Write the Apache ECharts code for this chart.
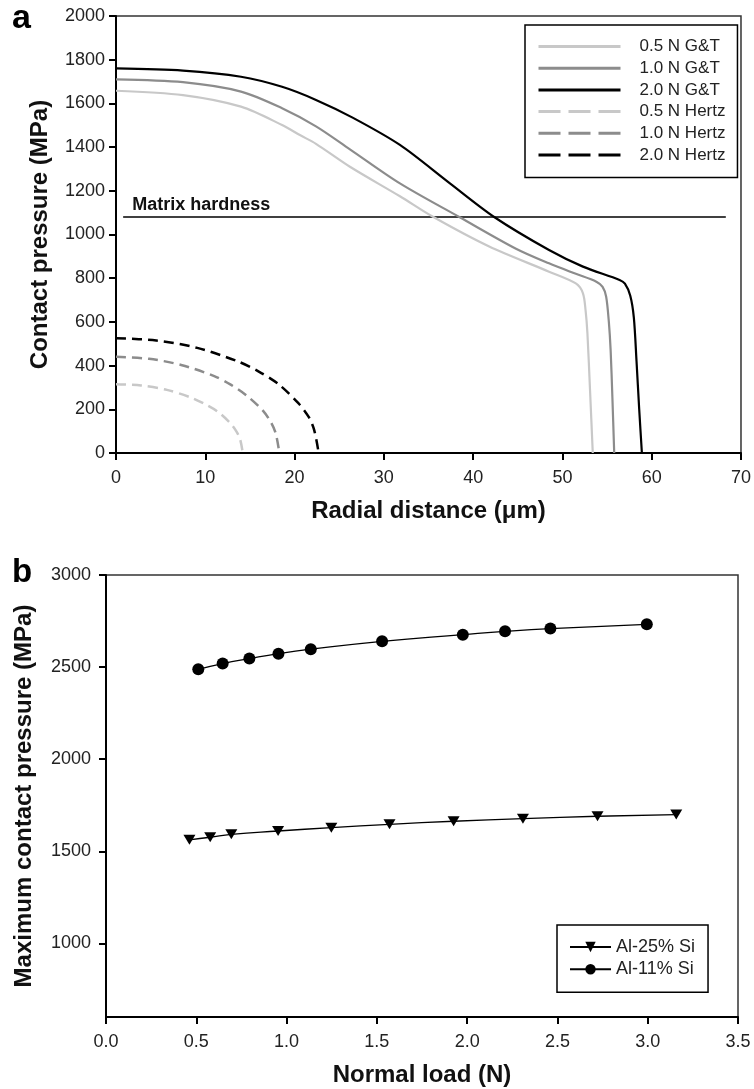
<!DOCTYPE html>
<html><head><meta charset="utf-8">
<script src="https://cdn.jsdelivr.net/npm/echarts@6/dist/echarts.min.js"></script>
<style>html,body{margin:0;padding:0;background:#fff}#c{width:754px;height:1089px}</style>
</head><body><div id="c"></div>
<script>
// ---------- Panel a data ----------
const gtNames = ['0.5 N G&T', '1.0 N G&T', '2.0 N G&T'];
const hzNames = ['0.5 N Hertz', '1.0 N Hertz', '2.0 N Hertz'];
const gt05 = [[0,1658],[7.5,1638],[14,1585],[18.6,1501],[20.6,1455],[22.4,1415],[26.2,1310],[31.8,1175],[35.5,1081],[41.8,945],[48.5,830],[51.5,776],[52.3,731],[52.6,650],[52.8,548],[53.1,280],[53.4,0]];
const gt10 = [[0,1710],[7.5,1697],[14,1654],[18.6,1578],[22.4,1495],[26.2,1390],[31.8,1234],[38.5,1079],[44.8,935],[48.5,868],[51.5,820],[53.8,784],[54.5,760],[54.9,715],[55.2,600],[55.4,471],[55.6,250],[55.8,0]];
const gt20 = [[0,1760],[7.5,1750],[14,1722],[18.6,1676],[22.4,1616],[26.5,1535],[31.8,1410],[37.4,1234],[42.4,1079],[48.5,929],[52.3,853],[56.4,792],[57.0,775],[57.6,720],[58.0,620],[58.3,420],[58.6,200],[58.9,0]];
const hz05 = [[0,315],[2.8,309],[5.7,289],[8.5,252],[9.9,225],[11.4,189],[12.8,137],[13.5,98],[13.9,63],[14.2,0]];
const hz10 = [[0,440],[3.7,431],[7.3,403],[11,352],[12.8,314],[14.6,264],[16.5,192],[17.4,137],[17.9,88],[18.3,0]];
const hz20 = [[0,525],[4.5,515],[9.1,481],[13.6,420],[15.9,375],[18.2,315],[20.4,229],[21.6,164],[22.2,105],[22.7,0]];
const hardnessX = [0.8, 68.3];
const hardnessValue = 1080;
const hardnessLabel = 'Matrix hardness';
const aXTicks = {min: 0, max: 70, interval: 10};
const aYTicks = {min: 0, max: 2000, interval: 200};

// ---------- Panel b data ----------
const bNames = ['Al-25% Si', 'Al-11% Si'];
const load25 = [0.462, 0.577, 0.694, 0.953, 1.248, 1.57, 1.925, 2.309, 2.722, 3.158];
const press25 = [1562, 1576, 1592, 1610, 1628, 1646, 1663, 1677, 1690, 1699];
const load11 = [0.511, 0.646, 0.794, 0.955, 1.134, 1.529, 1.976, 2.21, 2.461, 2.995];
const press11 = [2488, 2519, 2546, 2573, 2597, 2640, 2676, 2694, 2709, 2732];
const bXTicks = {min: 0, max: 3.5, interval: 0.5};
const bYLabels = [1000, 1500, 2000, 2500, 3000];
const bYRange = {min: 600, max: 3000};

const FONT = "'Liberation Sans', Arial, Helvetica, sans-serif";
const gray = ['#c8c8c8', '#8c8c8c', '#000000'];
const gtData = [gt05, gt10, gt20];
const hzData = [hz05, hz10, hz20];

const chart = echarts.init(document.getElementById('c'), null, {renderer: 'canvas'});

const axisLineStyle = {lineStyle: {color: '#000', width: 2}};
const tickStyle = {length: 7, lineStyle: {color: '#000', width: 2}};
const labelStyle = {fontSize: 18, color: '#222', fontFamily: FONT};
const nameStyle = {fontSize: 24, fontWeight: 'bold', color: '#111', fontFamily: FONT};
const plain = v => String(v);

const series = [];
gtNames.forEach((n, i) => series.push({
  name: n, type: 'line', xAxisIndex: 0, yAxisIndex: 0, data: gtData[i],
  symbol: 'none', smooth: 0.3,
  lineStyle: {color: gray[i], width: 2.2}, itemStyle: {color: gray[i]}, z: 3
}));
hzNames.forEach((n, i) => series.push({
  name: n, type: 'line', xAxisIndex: 0, yAxisIndex: 0, data: hzData[i],
  symbol: 'none', smooth: 0.3,
  lineStyle: {color: gray[i], width: 2.5, type: [10, 6]}, itemStyle: {color: gray[i]}, z: 3
}));
series.push({
  name: 'hardness', type: 'line', xAxisIndex: 0, yAxisIndex: 0,
  data: [
    {value: [hardnessX[0], hardnessValue], label: {show: true, formatter: hardnessLabel, position: 'top', align: 'left', distance: 3, offset: [9, 0], fontSize: 18, fontWeight: 'bold', color: '#111', fontFamily: FONT}},
    {value: [hardnessX[1], hardnessValue]}
  ],
  symbol: 'circle', symbolSize: 0.01, lineStyle: {color: '#000', width: 1.5}, itemStyle: {color: '#000'}, z: 2
});
series.push({
  name: bNames[0], type: 'line', xAxisIndex: 1, yAxisIndex: 1,
  data: load25.map((x, i) => [x, press25[i]]),
  symbol: 'path://M0,0L10,0L5,8Z', symbolSize: [12, 10], smooth: true,
  lineStyle: {color: '#000', width: 1.3}, itemStyle: {color: '#000'}
});
series.push({
  name: bNames[1], type: 'line', xAxisIndex: 1, yAxisIndex: 1,
  data: load11.map((x, i) => [x, press11[i]]),
  symbol: 'circle', symbolSize: 12, smooth: true,
  lineStyle: {color: '#000', width: 1.3}, itemStyle: {color: '#000'}
});

const legendA = gtNames.map(n => ({name: n, lineStyle: {width: 3}}))
  .concat(hzNames.map(n => ({name: n, lineStyle: {width: 3, type: [22, 8]}})));

chart.setOption({
  animation: false,
  backgroundColor: '#fff',
  textStyle: {fontFamily: FONT},
  grid: [
    {left: 116, top: 16, width: 626, height: 437, show: true, borderColor: '#333', borderWidth: 1.5},
    {left: 106, top: 575, width: 632, height: 442, show: true, borderColor: '#333', borderWidth: 1.5}
  ],
  xAxis: [
    {gridIndex: 0, type: 'value', min: aXTicks.min, max: aXTicks.max, interval: aXTicks.interval,
     axisLine: axisLineStyle, axisTick: tickStyle, axisLabel: Object.assign({margin: 16, formatter: plain}, labelStyle),
     splitLine: {show: false}, name: 'Radial distance (\u03bcm)', nameLocation: 'middle', nameGap: 46, nameTextStyle: nameStyle},
    {gridIndex: 1, type: 'value', min: bXTicks.min, max: bXTicks.max, interval: bXTicks.interval,
     axisLine: axisLineStyle, axisTick: tickStyle,
     axisLabel: Object.assign({margin: 16, formatter: v => v.toFixed(1)}, labelStyle),
     splitLine: {show: false}, name: 'Normal load (N)', nameLocation: 'middle', nameGap: 46, nameTextStyle: nameStyle}
  ],
  yAxis: [
    {gridIndex: 0, type: 'value', min: aYTicks.min, max: aYTicks.max, interval: aYTicks.interval,
     axisLine: axisLineStyle, axisTick: tickStyle, axisLabel: Object.assign({margin: 11, formatter: plain}, labelStyle),
     splitLine: {show: false}, name: 'Contact pressure (MPa)', nameLocation: 'middle', nameGap: 64, nameTextStyle: nameStyle},
    {gridIndex: 1, type: 'value', min: bYRange.min, max: bYRange.max,
     axisLine: axisLineStyle, axisTick: Object.assign({customValues: bYLabels}, tickStyle),
     axisLabel: Object.assign({margin: 15, customValues: bYLabels, formatter: plain}, labelStyle),
     splitLine: {show: false}, name: 'Maximum contact pressure (MPa)', nameLocation: 'middle', nameGap: 70, nameTextStyle: nameStyle}
  ],
  legend: [
    {orient: 'vertical', left: 525, top: 25, padding: [13, 12, 14, 12], itemWidth: 82, itemHeight: 14, itemGap: 4.7,
     borderColor: '#000', borderWidth: 1.5, backgroundColor: '#fff', selectedMode: false,
     itemStyle: {opacity: 0},
     textStyle: {fontSize: 17, lineHeight: 17, color: '#222', fontFamily: FONT, padding: [0, 0, 0, 14]},
     data: legendA},
    {orient: 'vertical', left: 557, top: 925, padding: [13, 13, 14, 12], itemWidth: 41, itemHeight: 13, itemGap: 4.3,
     borderColor: '#000', borderWidth: 1.5, backgroundColor: '#fff', selectedMode: false,
     textStyle: {fontSize: 18, lineHeight: 18, color: '#222', fontFamily: FONT},
     data: bNames}
  ],
  graphic: [
    {type: 'text', left: 12, top: 2, style: {text: 'a', font: 'bold 34px ' + FONT, fill: '#000'}},
    {type: 'text', left: 12, top: 556, style: {text: 'b', font: 'bold 33px ' + FONT, fill: '#000'}}
  ],
  series: series
});
</script></body></html>
